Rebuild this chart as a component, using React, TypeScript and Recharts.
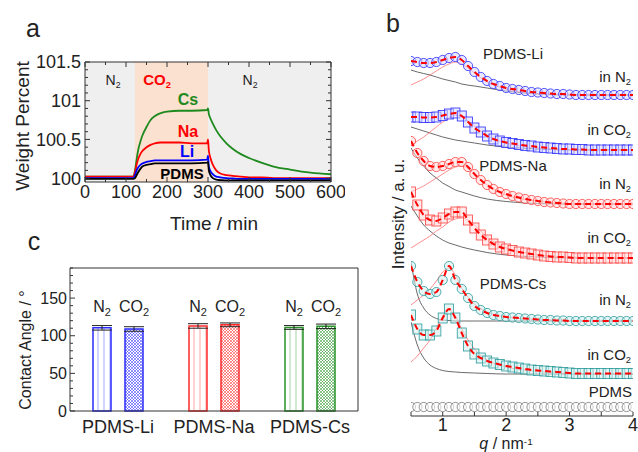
import React from 'react'
import {
  LineChart, Line, BarChart, Bar, ComposedChart, Scatter, XAxis, YAxis,
  ReferenceArea, ReferenceLine, ErrorBar, Cell, LabelList,
} from 'recharts'

const FONT = 'Arial, "Liberation Sans", Helvetica, sans-serif'
const AXIS = '#333'

// ---------- panel a: weight change during N2 / CO2 / N2 cycle
const TIME = [0, 60, 118, 122, 126, 130, 135, 140, 150, 160, 170, 185, 200, 230, 260, 298, 300, 302, 306, 312, 320, 330, 345, 360, 380, 400, 430, 460, 500, 550, 600]
const W_CS = [100.02, 100.02, 100.02, 100.1, 100.25, 100.37, 100.47, 100.55, 100.66, 100.75, 100.8, 100.84, 100.86, 100.87, 100.87, 100.88, 100.9, 100.83, 100.77, 100.7, 100.62, 100.54, 100.45, 100.38, 100.31, 100.26, 100.2, 100.15, 100.11, 100.07, 100.05]
const W_NA = [100.02, 100.02, 100.02, 100.08, 100.18, 100.25, 100.31, 100.35, 100.4, 100.43, 100.45, 100.46, 100.46, 100.46, 100.45, 100.45, 100.5, 100.36, 100.26, 100.17, 100.1, 100.06, 100.04, 100.03, 100.02, 100.01, 100.01, 100.0, 100.0, 100.0, 100.0]
const W_LI = [100.0, 100.0, 100.0, 100.04, 100.1, 100.14, 100.17, 100.19, 100.21, 100.22, 100.23, 100.23, 100.23, 100.23, 100.23, 100.24, 100.29, 100.15, 100.09, 100.05, 100.02, 100.01, 100.0, 99.995, 99.99, 99.99, 99.99, 99.99, 99.99, 99.99, 99.99]
const W_PDMS = [99.99, 99.99, 99.99, 100.0, 100.04, 100.08, 100.12, 100.15, 100.17, 100.18, 100.19, 100.19, 100.19, 100.19, 100.19, 100.2, 100.21, 100.1, 100.04, 100.0, 99.98, 99.975, 99.97, 99.97, 99.97, 99.97, 99.97, 99.97, 99.97, 99.97, 99.97]
const A_XTICKS = [0, 50, 100, 150, 200, 250, 300, 350, 400, 450, 500, 550, 600]
const A_YTICKS = [100, 100.1, 100.2, 100.3, 100.4, 100.5, 100.6, 100.7, 100.8, 100.9, 101, 101.1, 101.2, 101.3, 101.4, 101.5]

// ---------- panel c: contact angles
const SAMPLES = ['PDMS-Li', 'PDMS-Na', 'PDMS-Cs']
const ANGLE_N2 = [110.5, 113, 111]
const ANGLE_CO2 = [109, 114.5, 112.5]
const ERR_N2 = [3, 3, 2.5]
const ERR_CO2 = [3, 2.5, 3]
const BAR_COLORS = ['#2b2bff', '#ff2b2b', '#279327']
const C_YTICKS = [0, 10, 20, 30, 40, 50, 60, 70, 80, 90, 100, 110, 120, 130, 140, 150, 160, 170, 180, 190]

// ---------- panel b: scattering profiles (offset, a.u.)
const Q = [0.5, 0.6, 0.7, 0.8, 0.9, 1.0, 1.1, 1.2, 1.3, 1.4, 1.5, 1.6, 1.7, 1.8, 1.9, 2.0, 2.1, 2.2, 2.3, 2.4, 2.5, 2.6, 2.7, 2.8, 2.9, 3.0, 3.1, 3.2, 3.3, 3.4, 3.5, 3.6, 3.7, 3.8, 3.9, 4.0]
const LI_N2 = [35.5, 35.4, 35.3, 35.3, 35.4, 35.6, 35.8, 35.9, 35.6, 35.0, 34.4, 33.9, 33.5, 33.2, 33.0, 32.8, 32.7, 32.6, 32.5, 32.4, 32.35, 32.3, 32.25, 32.2, 32.2, 32.15, 32.1, 32.1, 32.1, 32.1, 32.1, 32.1, 32.1, 32.1, 32.1, 32.1]
const LI_CO2 = [29.9, 29.9, 29.85, 29.85, 29.9, 30.05, 30.2, 30.3, 30.0, 29.4, 28.8, 28.4, 28.0, 27.7, 27.5, 27.35, 27.25, 27.15, 27.05, 27.0, 26.9, 26.85, 26.8, 26.75, 26.7, 26.7, 26.65, 26.65, 26.6, 26.6, 26.6, 26.6, 26.6, 26.6, 26.6, 26.6]
const NA_N2 = [27.5, 26.3, 25.5, 25.0, 24.9, 25.0, 25.2, 25.4, 25.4, 24.9, 24.2, 23.6, 23.1, 22.7, 22.4, 22.2, 22.0, 21.85, 21.7, 21.6, 21.5, 21.4, 21.35, 21.3, 21.25, 21.2, 21.2, 21.2, 21.2, 21.2, 21.2, 21.2, 21.2, 21.2, 21.2, 21.2]
const NA_CO2 = [22.4, 21.1, 20.1, 19.6, 19.5, 19.8, 20.2, 20.4, 20.4, 19.6, 18.8, 18.1, 17.6, 17.2, 16.9, 16.7, 16.55, 16.4, 16.3, 16.2, 16.1, 16.0, 15.95, 15.9, 15.9, 15.85, 15.8, 15.8, 15.8, 15.8, 15.8, 15.8, 15.8, 15.8, 15.8, 15.8]
const CS_N2 = [15.0, 13.4, 12.5, 12.2, 12.4, 13.6, 15.0, 13.6, 12.7, 11.8, 11.0, 10.6, 10.3, 10.1, 10.0, 9.9, 9.85, 9.8, 9.75, 9.7, 9.65, 9.6, 9.6, 9.55, 9.55, 9.5, 9.5, 9.5, 9.5, 9.5, 9.5, 9.5, 9.5, 9.5, 9.5, 9.5]
const CS_CO2 = [10.1, 8.7, 8.1, 8.1, 8.5, 9.8, 10.7, 9.8, 8.3, 7.0, 6.2, 5.8, 5.5, 5.3, 5.15, 5.0, 4.9, 4.8, 4.7, 4.6, 4.55, 4.5, 4.45, 4.4, 4.35, 4.3, 4.25, 4.25, 4.25, 4.25, 4.25, 4.25, 4.25, 4.25, 4.25, 4.25]
const PDMS_I = [0.9, 0.9, 0.9, 0.9, 0.9, 0.9, 0.9, 0.9, 0.9, 0.9, 0.9, 0.9, 0.9, 0.9, 0.9, 0.9, 0.9, 0.9, 0.9, 0.9, 0.9, 0.9, 0.9, 0.9, 0.9, 0.9, 0.9, 0.9, 0.9, 0.9, 0.9, 0.9, 0.9, 0.9, 0.9, 0.9]

// fit components (background decay + correlation peak)
const FIT_Q = [0.5, 0.6, 0.7, 0.8, 0.9, 1.0, 1.1, 1.2, 1.3, 1.5, 1.7, 2.0, 2.5, 3.0, 4.0]
const LI_N2_BG = [34.6, 34.4, 34.25, 34.1, 33.9, 33.7, 33.55, 33.4, 33.2, 33.0, 32.8, 32.5, 32.2, 32.1, 32.1]
const LI_N2_PK = [33.1, 33.4, 33.7, 34.1, 34.5, 34.9, 35.2, 35.4, 35.2, 34.3, 33.4, 32.7, 32.25, 32.15, 32.1]
const LI_CO2_BG = [28.9, 28.7, 28.5, 28.3, 28.1, 27.9, 27.75, 27.6, 27.5, 27.3, 27.1, 26.9, 26.7, 26.6, 26.6]
const LI_CO2_PK = [27.1, 27.5, 27.9, 28.4, 28.9, 29.4, 29.8, 30.1, 29.9, 29.0, 28.0, 27.3, 26.8, 26.65, 26.6]
const NA_N2_BG = [26.8, 25.8, 25.0, 24.3, 23.8, 23.3, 22.95, 22.6, 22.4, 22.0, 21.7, 21.45, 21.25, 21.2, 21.2]
const NA_N2_PK = [22.4, 22.7, 23.0, 23.4, 23.8, 24.2, 24.6, 24.9, 25.0, 24.2, 23.1, 22.1, 21.5, 21.25, 21.2]
const NA_CO2_BG = [21.0, 20.0, 19.1, 18.5, 18.0, 17.6, 17.3, 17.1, 16.9, 16.6, 16.35, 16.1, 15.9, 15.8, 15.8]
const NA_CO2_PK = [16.8, 17.2, 17.6, 18.0, 18.5, 18.9, 19.4, 19.7, 19.8, 19.1, 17.9, 16.8, 16.15, 15.9, 15.8]
const CS_N2_BG = [15.4, 12.2, 10.8, 10.1, 9.75, 9.6, 9.55, 9.5, 9.5, 9.5, 9.5, 9.5, 9.5, 9.5, 9.5]
const CS_N2_PK = [11.1, 11.6, 12.1, 12.7, 13.5, 14.4, 14.8, 14.1, 12.8, 11.2, 10.4, 9.9, 9.65, 9.55, 9.5]
const CS_CO2_BG = [9.4, 7.1, 5.8, 5.1, 4.75, 4.55, 4.45, 4.4, 4.35, 4.3, 4.25, 4.2, 4.2, 4.2, 4.2]
const CS_CO2_PK = [5.4, 6.0, 6.8, 7.6, 8.8, 10.0, 10.6, 10.0, 8.7, 6.7, 5.6, 4.9, 4.45, 4.25, 4.2]
const B_XTICKS = [0.5, 1, 1.5, 2, 2.5, 3, 3.5, 4]

const TEAL = '#2a9a9a'
const SAXS = [
  { id: 'li-n2', v: LI_N2, bg: LI_N2_BG, pk: LI_N2_PK, color: '#2b2bff', fill: '#d8d8ff', mark: 'circle' },
  { id: 'li-co2', v: LI_CO2, bg: LI_CO2_BG, pk: LI_CO2_PK, color: '#2b2bff', fill: '#d8d8ff', mark: 'square' },
  { id: 'na-n2', v: NA_N2, bg: NA_N2_BG, pk: NA_N2_PK, color: '#ff4040', fill: '#ffdada', mark: 'circle' },
  { id: 'na-co2', v: NA_CO2, bg: NA_CO2_BG, pk: NA_CO2_PK, color: '#ff4040', fill: '#ffdada', mark: 'square' },
  { id: 'cs-n2', v: CS_N2, bg: CS_N2_BG, pk: CS_N2_PK, color: TEAL, fill: '#d2eeee', mark: 'circle' },
  { id: 'cs-co2', v: CS_CO2, bg: CS_CO2_BG, pk: CS_CO2_PK, color: TEAL, fill: '#d2eeee', mark: 'square' },
]

type Side = 'bottom' | 'top' | 'left' | 'right'

// ticks point into the plot; only major ticks get a label
function tickFn(side: Side, pos: number, o: { major: (v: number) => boolean; label?: boolean; size?: number; long?: number; short?: number; off?: number }) {
  const { major, label = false, size = 16, long = 5, short = 3, off = 16 } = o
  return (props: any) => {
    const v = props.payload?.value
    const big = major(v)
    const len = big ? long : short
    const show = label && big
    if (side === 'bottom' || side === 'top') {
      const c = props.x
      const d = side === 'bottom' ? -1 : 1
      return (
        <g>
          <line x1={c} x2={c} y1={pos} y2={pos + d * len} stroke={AXIS} strokeWidth={1} />
          {show && (
            <text x={c} y={pos + off} textAnchor="middle" fontSize={size} fontFamily={FONT} fill="#222">
              {String(v)}
            </text>
          )}
        </g>
      )
    }
    const c = props.y
    const d = side === 'left' ? 1 : -1
    return (
      <g>
        <line x1={pos} x2={pos + d * len} y1={c} y2={c} stroke={AXIS} strokeWidth={1} />
        {show && (
          <text x={pos - off} y={c + size * 0.36} textAnchor="end" fontSize={size} fontFamily={FONT} fill="#222">
            {String(v)}
          </text>
        )}
      </g>
    )
  }
}

const isHalf = (v: number) => Math.abs(v * 2 - Math.round(v * 2)) < 1e-6
const isInt = (v: number) => Math.abs(v - Math.round(v)) < 1e-6

const Sub = ({ c }: { c: string }) => (
  <span style={{ fontSize: '0.62em', position: 'relative', top: '0.32em' }}>{c}</span>
)

function Txt({ x, y, size = 15, color = '#222', bold = false, rotate = 0, align = 'center', children }: any) {
  const tx = align === 'center' ? '-50%' : align === 'right' ? '-100%' : '0%'
  return (
    <div
      style={{
        position: 'absolute', left: x, top: y, whiteSpace: 'nowrap', lineHeight: 1,
        transform: `translate(${tx}, -50%)${rotate ? ` rotate(${rotate}deg)` : ''}`,
        fontSize: size, color, fontWeight: bold ? 700 : 400, fontFamily: FONT,
      }}
    >
      {children}
    </div>
  )
}

function WeightPanel() {
  const data = TIME.map((t, i) => ({ t, cs: W_CS[i], na: W_NA[i], li: W_LI[i], pdms: W_PDMS[i] }))
  return (
    <div style={{ position: 'absolute', left: 0, top: 0 }}>
      <LineChart width={345} height={240} data={data} margin={{ top: 58, right: 10, bottom: 28, left: 25 }}>
        <ReferenceArea x1={0} x2={122} y1={99.95} y2={101.5} fill="#efefef" fillOpacity={1} stroke="none" />
        <ReferenceArea x1={122} x2={300} y1={99.95} y2={101.5} fill="#fbe1d0" fillOpacity={1} stroke="none" />
        <ReferenceArea x1={300} x2={600} y1={99.95} y2={101.5} fill="#efefef" fillOpacity={1} stroke="none" />
        <XAxis dataKey="t" type="number" domain={[0, 600]} ticks={A_XTICKS} interval={0} height={30}
          axisLine={{ stroke: AXIS }} tickLine={false}
          tick={tickFn('bottom', 182, { major: (v) => v % 100 === 0, label: true, size: 18, off: 16 })} />
        <XAxis xAxisId="top" orientation="top" dataKey="t" type="number" domain={[0, 600]} ticks={A_XTICKS} interval={0} height={4}
          axisLine={{ stroke: AXIS }} tickLine={false}
          tick={tickFn('top', 62, { major: (v) => v % 100 === 0 })} />
        <YAxis type="number" domain={[99.95, 101.5]} allowDataOverflow ticks={A_YTICKS} interval={0} width={60}
          axisLine={{ stroke: AXIS }} tickLine={false}
          tick={tickFn('left', 85, { major: isHalf, label: true, size: 18, off: 4 })} />
        <YAxis yAxisId="r" orientation="right" type="number" domain={[99.95, 101.5]} allowDataOverflow ticks={A_YTICKS} interval={0} width={4}
          axisLine={{ stroke: AXIS }} tickLine={false}
          tick={tickFn('right', 331, { major: isHalf })} />
        <Line dataKey="cs" type="monotone" stroke="#1e8a1e" strokeWidth={1.8} dot={false} isAnimationActive={false} />
        <Line dataKey="na" type="monotone" stroke="#ff0000" strokeWidth={1.8} dot={false} isAnimationActive={false} />
        <Line dataKey="li" type="monotone" stroke="#0000ff" strokeWidth={1.8} dot={false} isAnimationActive={false} />
        <Line dataKey="pdms" type="monotone" stroke="#000" strokeWidth={1.8} dot={false} isAnimationActive={false} />
      </LineChart>
    </div>
  )
}

function AnglePanel() {
  const data = SAMPLES.map((name, i) => ({
    name, n2: ANGLE_N2[i], co2: ANGLE_CO2[i], n2Err: ERR_N2[i], co2Err: ERR_CO2[i],
  }))
  const gasLabel = (gas: string) => (p: any) => (
    <text x={p.x + p.width / 2} y={82} textAnchor="middle" fontSize={16} fontFamily={FONT} fill="#222">
      {gas}
      <tspan dy={4} fontSize={11}>2</tspan>
    </text>
  )
  return (
    <div style={{ position: 'absolute', left: 0, top: 230 }}>
      <BarChart width={370} height={222} data={data} margin={{ top: 38, right: 8, bottom: 11, left: 20 }}
        barSize={18} barGap={14}>
        <ReferenceLine y={190} stroke={AXIS} />
        <XAxis dataKey="name" height={30} axisLine={{ stroke: AXIS }} tickLine={false}
          tick={tickFn('bottom', 181, { major: () => true, label: true, size: 18, long: 0, off: 22 })} />
        <YAxis type="number" domain={[0, 190]} ticks={C_YTICKS} interval={0} width={50}
          axisLine={{ stroke: AXIS }} tickLine={false}
          tick={tickFn('left', 70, { major: (v) => v % 50 === 0, label: true, size: 16, off: 3 })} />
        <YAxis yAxisId="r" orientation="right" type="number" domain={[0, 190]} ticks={C_YTICKS} interval={0} width={4}
          axisLine={{ stroke: AXIS }} tickLine={false}
          tick={tickFn('right', 358, { major: (v) => v % 50 === 0 })} />
        <Bar dataKey="n2" isAnimationActive={false} strokeWidth={1.5}>
          {data.map((_, i) => (
            <Cell key={`n2-${i}`} fill={`url(#stripe-${i})`} stroke={BAR_COLORS[i]} />
          ))}
          <ErrorBar dataKey="n2Err" width={10} stroke="#222" strokeWidth={1} direction="y" />
          <LabelList dataKey="n2" content={gasLabel('N')} />
        </Bar>
        <Bar dataKey="co2" isAnimationActive={false} strokeWidth={1.5}>
          {data.map((_, i) => (
            <Cell key={`co2-${i}`} fill={`url(#hatch-${i})`} stroke={BAR_COLORS[i]} />
          ))}
          <ErrorBar dataKey="co2Err" width={10} stroke="#222" strokeWidth={1} direction="y" />
          <LabelList dataKey="co2" content={gasLabel('CO')} />
        </Bar>
      </BarChart>
    </div>
  )
}

function ScatteringPanel() {
  const pts = (xs: number[], ys: number[]) => xs.map((q, i) => ({ q, v: ys[i] }))
  const marker = (color: string, fill: string, mark: string) => (p: any) =>
    mark === 'circle'
      ? <circle cx={p.cx} cy={p.cy} r={4.6} fill={fill} fillOpacity={0.55} stroke={color} strokeWidth={0.8} />
      : <rect x={p.cx - 4.5} y={p.cy - 5} width={9} height={10} fill={fill} fillOpacity={0.55} stroke={color} strokeWidth={0.8} />
  return (
    <div style={{ position: 'absolute', left: 380, top: 0 }}>
      <ComposedChart width={258} height={452} margin={{ top: 40, right: 5, bottom: 6, left: 31 }}>
        <XAxis dataKey="q" type="number" domain={[0.5, 4]} allowDataOverflow ticks={B_XTICKS} interval={0} height={30}
          axisLine={{ stroke: AXIS }} tickLine={false}
          tick={tickFn('bottom', 416, { major: isInt, label: true, size: 18, long: 4, short: 4, off: 15 })} />
        <YAxis dataKey="v" type="number" domain={[0, 37.6]} allowDataOverflow hide />
        {SAXS.map((s) => (
          <Line key={`${s.id}-bg`} data={pts(FIT_Q, s.bg)} dataKey="v" type="monotone" stroke="#444"
            strokeWidth={0.8} dot={false} isAnimationActive={false} />
        ))}
        {SAXS.map((s) => (
          <Line key={`${s.id}-pk`} data={pts(FIT_Q, s.pk)} dataKey="v" type="monotone" stroke="#ff7070"
            strokeWidth={0.8} dot={false} isAnimationActive={false} />
        ))}
        {SAXS.map((s) => (
          <Scatter key={`${s.id}-pt`} data={pts(Q, s.v)} dataKey="v" isAnimationActive={false}
            shape={marker(s.color, s.fill, s.mark)} />
        ))}
        <Scatter data={pts(Q, PDMS_I)} dataKey="v" isAnimationActive={false}
          shape={marker('#777', '#ffffff', 'circle')} />
        {SAXS.map((s) => (
          <Line key={`${s.id}-fit`} data={pts(Q, s.v)} dataKey="v" type="monotone" stroke="#ff0000"
            strokeWidth={2} strokeDasharray="6 4" dot={false} isAnimationActive={false} zIndex={700} />
        ))}
      </ComposedChart>
    </div>
  )
}

export default function App() {
  return (
    <div style={{ position: 'absolute', left: 0, top: 0, width: 638, height: 452, background: '#fff', overflow: 'hidden', fontFamily: FONT }}>
      <svg width={0} height={0} style={{ position: 'absolute' }}>
        <defs>
          {BAR_COLORS.map((c, i) => (
            <pattern key={`s${i}`} id={`stripe-${i}`} patternUnits="userSpaceOnUse" width={6} height={6}>
              <rect width={6} height={6} fill="#fff" />
              <line x1={2} y1={0} x2={2} y2={6} stroke={c} strokeOpacity={0.35} strokeWidth={1.2} />
            </pattern>
          ))}
          {BAR_COLORS.map((c, i) => (
            <pattern key={`h${i}`} id={`hatch-${i}`} patternUnits="userSpaceOnUse" width={3} height={3}>
              <rect width={3} height={3} fill="#fff" />
              <path d="M0,0 L3,3 M3,0 L0,3" stroke={c} strokeOpacity={0.75} strokeWidth={0.7} />
            </pattern>
          ))}
        </defs>
      </svg>

      <WeightPanel />
      <AnglePanel />
      <ScatteringPanel />

      {/* panel letters */}
      <Txt x={33} y={28} size={25}>a</Txt>
      <Txt x={393} y={23} size={25}>b</Txt>
      <Txt x={34} y={241} size={25}>c</Txt>

      {/* panel a annotations */}
      <Txt x={22} y={126} size={19} rotate={-90}>Weight Percent</Txt>
      <Txt x={214} y={223} size={19}>Time / min</Txt>
      <Txt x={113} y={80} size={14}>N<Sub c="2" /></Txt>
      <Txt x={157} y={80} size={15} bold color="#ff0000">CO<Sub c="2" /></Txt>
      <Txt x={250} y={80} size={14}>N<Sub c="2" /></Txt>
      <Txt x={188} y={100} size={16} bold color="#1e8a1e">Cs</Txt>
      <Txt x={188} y={132} size={16} bold color="#ff0000">Na</Txt>
      <Txt x={187} y={152} size={16} bold color="#0000ff">Li</Txt>
      <Txt x={182} y={173} size={15} bold color="#000">PDMS</Txt>

      {/* panel c annotations */}
      <Txt x={26} y={350} size={16} rotate={-90}>Contact Angle / °</Txt>

      {/* panel b annotations */}
      <Txt x={398} y={214} size={17} rotate={-90}>Intensity / a. u.</Txt>
      <Txt x={506} y={444} size={16}><i>q</i> / nm<span style={{ fontSize: '0.62em', position: 'relative', top: '-0.45em' }}>-1</span></Txt>
      <Txt x={513} y={53} size={15}>PDMS-Li</Txt>
      <Txt x={631} y={77} size={15} align="right">in N<Sub c="2" /></Txt>
      <Txt x={631} y={130} size={15} align="right">in CO<Sub c="2" /></Txt>
      <Txt x={513} y={165} size={15}>PDMS-Na</Txt>
      <Txt x={631} y={184} size={15} align="right">in N<Sub c="2" /></Txt>
      <Txt x={631} y={238} size={15} align="right">in CO<Sub c="2" /></Txt>
      <Txt x={513} y={283} size={15}>PDMS-Cs</Txt>
      <Txt x={631} y={300} size={15} align="right">in N<Sub c="2" /></Txt>
      <Txt x={631} y={355} size={15} align="right">in CO<Sub c="2" /></Txt>
      <Txt x={632} y={391} size={15} align="right">PDMS</Txt>
    </div>
  )
}
